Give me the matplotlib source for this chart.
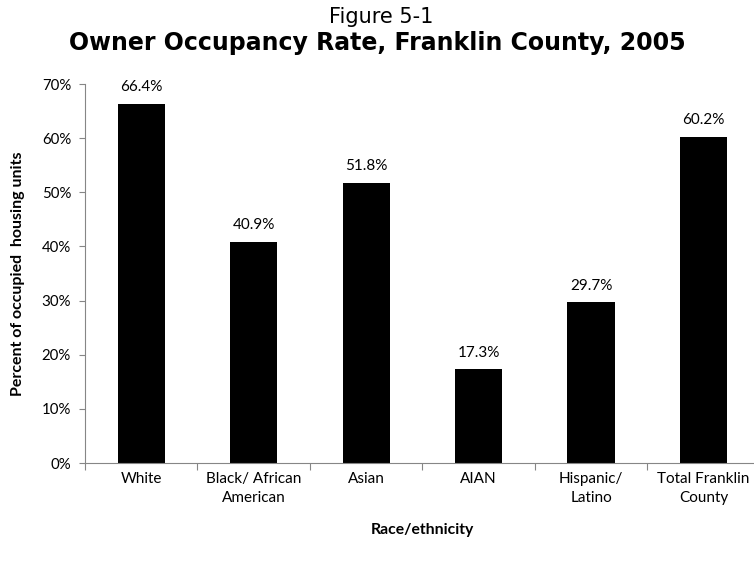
import numpy as np
import matplotlib
matplotlib.use('Agg')
import matplotlib.pyplot as plt
from matplotlib.ticker import FixedLocator, PercentFormatter

# data
categories = ['White', 'Black/ African\nAmerican', 'Asian', 'AIAN', 'Hispanic/\nLatino', 'Total Franklin\nCounty']
rates = [66.4, 40.9, 51.8, 17.3, 29.7, 60.2]
y_ticks = [0, 10, 20, 30, 40, 50, 60, 70]

body_font = ['Lato', 'DejaVu Sans']
gray = '#868686'

fig = plt.figure(figsize=(7.54, 5.64), dpi=100)
ax = fig.add_axes([0.1127, 0.179, 0.895, 0.672])

x = np.arange(len(categories))
ax.bar(x, rates, width=0.42, color='black', zorder=2)

for xi, v in zip(x, rates):
    ax.annotate(f'{v:.1f}%', (xi, v), xytext=(0, 7), textcoords='offset points',
                ha='center', va='bottom', fontsize=11, family=body_font)

ax.set_xlim(-0.5, len(categories) - 0.5)
ax.set_ylim(0, 70)

# y axis
ax.set_yticks(y_ticks)
ax.yaxis.set_major_formatter(PercentFormatter(decimals=0))
ax.tick_params(axis='y', direction='out', length=4, color=gray, labelsize=10.8, pad=6)

# x axis: boundary ticks, labels at centers
ax.xaxis.set_major_locator(FixedLocator(np.arange(len(categories) + 1) - 0.5))
ax.xaxis.set_minor_locator(FixedLocator(x))
ax.set_xticklabels([])
ax.set_xticklabels(categories, minor=True)
ax.tick_params(axis='x', which='major', direction='out', length=5, color=gray)
ax.tick_params(axis='x', which='minor', length=0, labelsize=11, pad=6.5)

for lbl in ax.get_xticklabels(minor=True):
    lbl.set_family(body_font)
    lbl.set_linespacing(1.45)
for lbl in ax.get_yticklabels():
    lbl.set_family(body_font)

for side in ['top', 'right']:
    ax.spines[side].set_visible(False)
for side in ['left', 'bottom']:
    ax.spines[side].set_color(gray)

ax.set_xlabel('Race/ethnicity', fontsize=11.3, fontweight='bold', family=body_font, labelpad=13)
ax.set_ylabel('Percent of occupied  housing units', fontsize=11.5, fontweight='bold',
              family=body_font, labelpad=12)

fig.text(0.505, 0.970, 'Figure 5-1', ha='center', va='center', fontsize=15,
         family='DejaVu Sans')
fig.text(0.5, 0.924, 'Owner Occupancy Rate, Franklin County, 2005', ha='center',
         va='center', fontsize=17, fontweight='bold', family='DejaVu Sans')

fig.savefig('out.png', dpi=100)
